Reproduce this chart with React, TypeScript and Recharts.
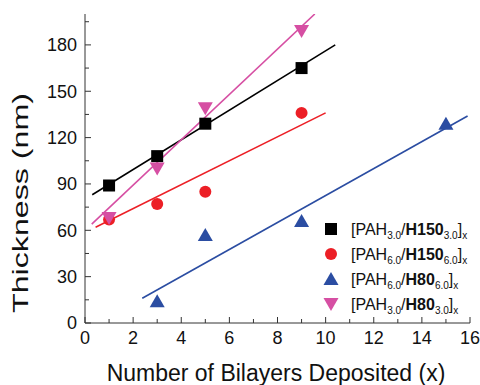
import { ScatterChart, Scatter, XAxis, YAxis } from 'recharts'

const xTicks = [0, 1, 2, 3, 4, 5, 6, 7, 8, 9, 10, 11, 12, 13, 14, 15, 16]
const yTicks = [0, 15, 30, 45, 60, 75, 90, 105, 120, 135, 150, 165, 180, 195]

const h150_30 = [
  { x: 1, y: 89 },
  { x: 3, y: 108 },
  { x: 5, y: 129 },
  { x: 9, y: 165 },
]
const h150_60 = [
  { x: 1, y: 67 },
  { x: 3, y: 77 },
  { x: 5, y: 85 },
  { x: 9, y: 136 },
]
const h80_60 = [
  { x: 3, y: 14 },
  { x: 5, y: 57 },
  { x: 9, y: 66 },
  { x: 15, y: 129 },
]
const h80_30 = [
  { x: 1, y: 68 },
  { x: 3, y: 100 },
  { x: 5, y: 139 },
  { x: 9, y: 189 },
]

// linear fits (end points)
const fit150_30 = [{ x: 0.3, y: 83 }, { x: 10.4, y: 180 }]
const fit150_60 = [{ x: 0.44, y: 62 }, { x: 10, y: 136 }]
const fit80_60 = [{ x: 2.38, y: 16 }, { x: 15.9, y: 134 }]
const fit80_30 = [{ x: 0.28, y: 64 }, { x: 9.55, y: 200 }]

const series = [
  { key: 'a', pah: '3.0', poly: 'H150', pH: '3.0', color: '#000000', marker: 'square', data: h150_30, fit: fit150_30 },
  { key: 'b', pah: '6.0', poly: 'H150', pH: '6.0', color: '#ec1f26', marker: 'circle', data: h150_60, fit: fit150_60 },
  { key: 'c', pah: '6.0', poly: 'H80', pH: '6.0', color: '#2b4da2', marker: 'up', data: h80_60, fit: fit80_60 },
  { key: 'd', pah: '3.0', poly: 'H80', pH: '3.0', color: '#d64fa3', marker: 'down', data: h80_30, fit: fit80_30 },
]

const font = '"Liberation Sans", Arial, sans-serif'
const axisColor = '#333'

function markerShape(kind: string, color: string) {
  return (props: any) => {
    const { cx, cy } = props
    if (kind === 'square') return <rect x={cx - 6} y={cy - 6} width={12} height={12} fill={color} />
    if (kind === 'circle') return <circle cx={cx} cy={cy} r={6} fill={color} />
    if (kind === 'up')
      return <polygon points={`${cx},${cy - 7} ${cx + 7.5},${cy + 6} ${cx - 7.5},${cy + 6}`} fill={color} />
    return <polygon points={`${cx},${cy + 7} ${cx + 7.5},${cy - 6} ${cx - 7.5},${cy - 6}`} fill={color} />
  }
}

function BottomTick(props: any) {
  const { x, y, payload } = props
  const major = payload.value % 2 === 0
  return (
    <g>
      <line x1={x} y1={y} x2={x} y2={y - (major ? 6 : 4)} stroke={axisColor} />
      {major && (
        <text x={x} y={y + 21} textAnchor="middle" fontSize={18} fontFamily={font} fill="#111">
          {payload.value}
        </text>
      )}
    </g>
  )
}

function TopTick(props: any) {
  const { x, y, payload } = props
  const major = payload.value % 2 === 0
  return <line x1={x} y1={y} x2={x} y2={y + (major ? 6 : 4)} stroke={axisColor} />
}

function LeftTick(props: any) {
  const { x, y, payload } = props
  const major = payload.value % 30 === 0
  return (
    <g>
      <line x1={x} y1={y} x2={x + (major ? 6 : 4)} y2={y} stroke={axisColor} />
      {major && (
        <text x={x - 8} y={y} dy="0.36em" textAnchor="end" fontSize={18} fontFamily={font} fill="#111">
          {payload.value}
        </text>
      )}
    </g>
  )
}

function RightTick(props: any) {
  const { x, y, payload } = props
  const major = payload.value % 30 === 0
  return <line x1={x} y1={y} x2={x - (major ? 6 : 4)} y2={y} stroke={axisColor} />
}

function LegendBox({ x, y }: { x: number; y: number }) {
  return (
    <g fontFamily={font} fill="#111">
      {series.map((s, i) => {
        const cy = y + i * 25
        return (
          <g key={s.key}>
            {markerShape(s.marker, s.color)({ cx: x, cy })}
            <text x={x + 20} y={cy + 6} fontSize={16}>
              <tspan>[PAH</tspan>
              <tspan fontSize={10} dy={4}>{s.pah}</tspan>
              <tspan dy={-4}>/</tspan>
              <tspan fontWeight="bold">{s.poly}</tspan>
              <tspan fontSize={10} dy={4}>{s.pH}</tspan>
              <tspan dy={-4}>]</tspan>
              <tspan fontSize={10} dy={4}>x</tspan>
            </text>
          </g>
        )
      })}
    </g>
  )
}

export default function App() {
  return (
    <div style={{ position: 'absolute', left: 0, top: 0, width: 480, height: 385, background: '#fff' }}>
      <ScatterChart width={480} height={385} margin={{ top: 14, right: 10, left: 0, bottom: 0 }}>
        <XAxis
          xAxisId={0}
          type="number"
          dataKey="x"
          domain={[0, 16]}
          ticks={xTicks}
          interval={0}
          tickSize={0}
          tickMargin={0}
          height={62}
          stroke={axisColor}
          tick={<BottomTick />}
        />
        <XAxis
          xAxisId="top"
          orientation="top"
          type="number"
          dataKey="x"
          domain={[0, 16]}
          ticks={xTicks}
          interval={0}
          tickSize={0}
          tickMargin={0}
          height={0}
          stroke={axisColor}
          tick={<TopTick />}
        />
        <YAxis
          yAxisId={0}
          type="number"
          dataKey="y"
          domain={[0, 200]}
          ticks={yTicks}
          interval={0}
          tickSize={0}
          tickMargin={0}
          width={85}
          stroke={axisColor}
          allowDataOverflow
          tick={<LeftTick />}
        />
        <YAxis
          yAxisId="right"
          orientation="right"
          type="number"
          dataKey="y"
          domain={[0, 200]}
          ticks={yTicks}
          interval={0}
          tickSize={0}
          tickMargin={0}
          width={0}
          stroke={axisColor}
          tick={<RightTick />}
        />
        {series.map((s) => (
          <Scatter
            key={s.key + 'fit'}
            data={s.fit}
            line={{ stroke: s.color, strokeWidth: 1.6 }}
            shape={() => <g />}
            isAnimationActive={false}
          />
        ))}
        {series.map((s) => (
          <Scatter
            key={s.key}
            data={s.data}
            shape={markerShape(s.marker, s.color)}
            isAnimationActive={false}
          />
        ))}
        <LegendBox x={331} y={229} />
        <text
          x={276}
          y={381}
          textAnchor="middle"
          fontSize={23}
          fontFamily={font}
          fill="#111"
        >
          Number of Bilayers Deposited (x)
        </text>
        <text
          x={28}
          y={203}
          transform="rotate(-90 28 203)"
          textAnchor="middle"
          fontSize={22}
          fontFamily={font}
          fill="#111"
          textLength={220}
          lengthAdjust="spacingAndGlyphs"
        >
          Thickness (nm)
        </text>
      </ScatterChart>
    </div>
  )
}
